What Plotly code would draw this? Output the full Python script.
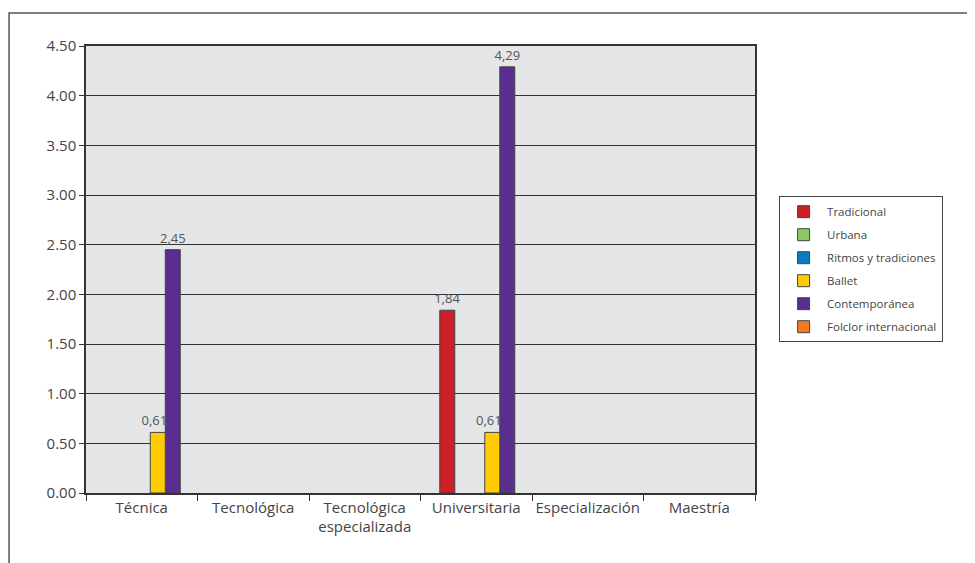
import plotly.graph_objects as go

categories = ['Técnica', 'Tecnológica', 'Tecnológica<br>especializada',
              'Universitaria', 'Especialización', 'Maestría']

series_names = ['Tradicional', 'Urbana', 'Ritmos y tradiciones', 'Ballet',
                'Contemporánea', 'Folclor internacional']

tradicional = [None, None, None, 1.84, None, None]
urbana = [None, None, None, None, None, None]
ritmos = [None, None, None, None, None, None]
ballet = [0.61, None, None, 0.61, None, None]
contemporanea = [2.45, None, None, 4.29, None, None]
folclor = [None, None, None, None, None, None]

series_values = [tradicional, urbana, ritmos, ballet, contemporanea, folclor]
colors = ['#cc1f27', '#8cc863', '#0b7cc2', '#ffcb05', '#5b2d8f', '#f47a21']

bar_w = 0.1345
start = -0.327

fig = go.Figure()
# added in reverse so that labels of earlier series sit on top of later bars
for i in reversed(range(len(series_names))):
    name, vals, col = series_names[i], series_values[i], colors[i]
    labels = []
    for v in vals:
        if v is None:
            labels.append('')
        else:
            s = ('%.2f' % v).replace('.', ',')
            # Ballet label is nudged left, as in the original
            labels.append(s + '\u00a0\u00a0' if name == 'Ballet' else s)
    fig.add_trace(go.Bar(
        x=categories,
        y=vals,
        name=name,
        width=bar_w,
        offset=start + i * bar_w,
        marker=dict(color=col, line=dict(color='#444444', width=1)),
        text=labels,
        textposition='outside',
        constraintext='none',
        textfont=dict(size=13, color='#555555'),
        cliponaxis=False,
        legendgroup=name,
        legendrank=i + 1,
    ))

fig.update_layout(
    width=975,
    height=563,
    barmode='overlay',
    paper_bgcolor='white',
    plot_bgcolor='#e5e6e8',
    font=dict(family='Open Sans', color='#444444'),
    margin=dict(l=78, r=228, t=38, b=78, autoexpand=False),
    showlegend=True,
    legend=dict(
        x=1.036, y=0.664, xanchor='left', yanchor='top',
        bgcolor='white', bordercolor='#444444', borderwidth=1,
        font=dict(size=11.5, color='#444444'),
        tracegroupgap=4,
        traceorder='grouped',
        itemwidth=37,
    ),
    xaxis=dict(
        showline=True, linecolor='#333333', linewidth=1.5, mirror=True,
        ticks='outside', tickson='boundaries', ticklen=6, tickcolor='#333333',
        tickfont=dict(size=15, color='#444444'), tickangle=0,
        showgrid=False, automargin=False,
    ),
    yaxis=dict(
        range=[0, 4.5], dtick=0.5, tickformat='.2f',
        showline=True, linecolor='#333333', linewidth=1.5, mirror=True,
        ticks='outside', ticklen=5, tickcolor='#333333',
        tickfont=dict(size=15, color='#444444'),
        showgrid=True, gridcolor='#333333', gridwidth=1,
        zeroline=False, automargin=False,
    ),
    shapes=[dict(
        type='rect', xref='paper', yref='paper',
        x0=-0.115, x1=1.45, y0=-0.35, y1=1.0738,
        line=dict(color='#555555', width=1.5),
    )],
)

fig.write_html('out.html')
